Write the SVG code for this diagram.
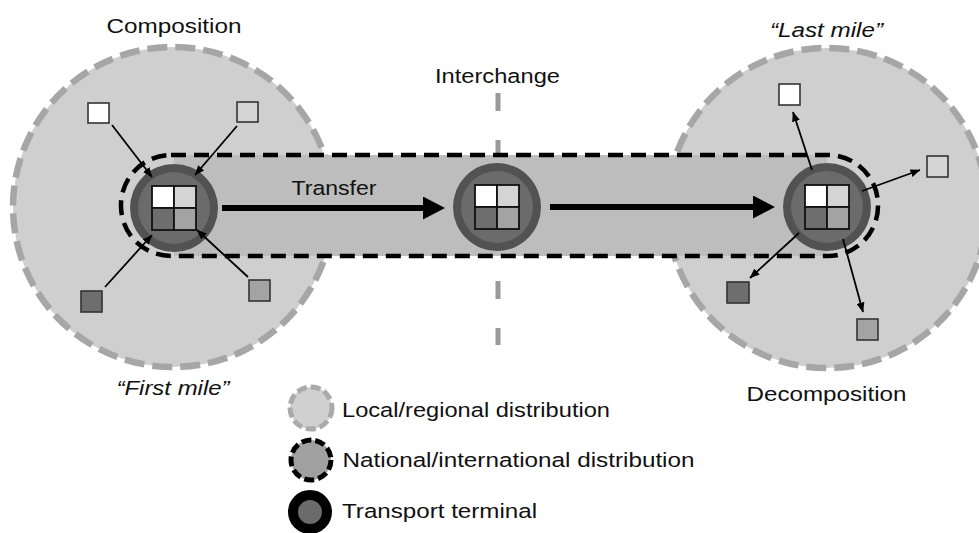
<svg xmlns="http://www.w3.org/2000/svg" width="979" height="533" viewBox="0 0 979 533">
  <style>
    .lbl { font-family: "Liberation Sans", Arial, sans-serif; font-size: 20.5px; fill: #111; }
    .it { font-style: italic; }
    .region { fill: #cfcfcf; stroke: #a6a6a6; stroke-width: 6.5; stroke-dasharray: 20 8; }
    .corridor { fill: none; stroke: #000; stroke-width: 4.5; stroke-dasharray: 15 8; }
    .ring { fill: #525252; }
    .core { fill: #6b6b6b; }
    .cell { stroke: #111; stroke-width: 1.8; }
    .w { fill: #ffffff; }
    .l { fill: #d4d4d4; }
    .d { fill: #6e6e6e; }
    .m { fill: #a3a3a3; }
    .sq { stroke: #333; stroke-width: 1.6; }
    .feed { stroke: #000; stroke-width: 1.8; fill: none; marker-end: url(#tip); }
    .haul { stroke: #000; stroke-width: 6; fill: none; marker-end: url(#bigtip); }
  </style>
  <defs>
    <marker id="tip" viewBox="0 0 10 8" refX="9.5" refY="4" markerWidth="10" markerHeight="8" markerUnits="userSpaceOnUse" orient="auto">
      <path d="M0,0 L10,4 L0,8 z" fill="#000"/>
    </marker>
    <marker id="bigtip" viewBox="0 0 22 23" refX="2" refY="11.5" markerWidth="22" markerHeight="23" markerUnits="userSpaceOnUse" orient="auto">
      <path d="M0,0 L22,11.5 L0,23 z" fill="#000"/>
    </marker>
    <!-- terminal: ring + 2x2 load grid -->
    <g id="terminal">
      <circle r="44" class="ring"/>
      <circle r="36" class="core"/>
      <rect x="-22" y="-22" width="22" height="22" class="cell w"/>
      <rect x="0" y="-22" width="22" height="22" class="cell l"/>
      <rect x="-22" y="0" width="22" height="22" class="cell d"/>
      <rect x="0" y="0" width="22" height="22" class="cell m"/>
    </g>
  </defs>

  <!-- local / regional distribution areas -->
  <g id="region-left"><circle cx="173" cy="207" r="160" class="region"/></g>
  <g id="region-right"><circle cx="827" cy="208" r="160" class="region"/></g>

  <!-- interchange divider -->
  <g id="interchange-line">
    <line x1="498" y1="93" x2="498" y2="345" stroke="#999" stroke-width="5" stroke-dasharray="18 29"/>
  </g>

  <!-- national / international corridor -->
  <g id="corridor">
    <rect x="174" y="155" width="653" height="101" fill="#bdbdbd"/>
    <rect x="121" y="155" width="757" height="101" rx="50" ry="50" class="corridor"/>
  </g>

  <!-- terminals -->
  <g id="terminal-left"><use href="#terminal" x="174" y="208"/></g>
  <g id="terminal-mid"><use href="#terminal" x="497" y="207"/></g>
  <g id="terminal-right"><use href="#terminal" x="827" y="207"/></g>

  <!-- connectors -->
  <g id="connectors">
    <line x1="222" y1="208" x2="425" y2="208" class="haul"/>
    <line x1="550" y1="207" x2="755" y2="207" class="haul"/>
    <line x1="112" y1="125" x2="152" y2="177" class="feed"/>
    <line x1="237" y1="126" x2="195" y2="175" class="feed"/>
    <line x1="105" y1="287" x2="152" y2="235" class="feed"/>
    <line x1="248" y1="277" x2="197" y2="230" class="feed"/>
    <line x1="812" y1="170" x2="793" y2="112" class="feed"/>
    <line x1="862" y1="191" x2="920" y2="170" class="feed"/>
    <line x1="799" y1="233" x2="750" y2="278" class="feed"/>
    <line x1="843" y1="239" x2="863" y2="312" class="feed"/>
  </g>

  <!-- shippers / receivers -->
  <g id="src-white"><rect x="88" y="103" width="21" height="20" class="sq w"/></g>
  <g id="src-light"><rect x="237" y="102" width="21" height="20" class="sq l"/></g>
  <g id="src-dark"><rect x="81" y="291" width="21" height="21" class="sq d"/></g>
  <g id="src-mid"><rect x="249" y="280" width="21" height="21" class="sq m"/></g>
  <g id="dst-white"><rect x="779" y="84" width="21" height="21" class="sq w"/></g>
  <g id="dst-light"><rect x="927" y="156" width="21" height="21" class="sq l"/></g>
  <g id="dst-dark"><rect x="727" y="282" width="22" height="21" class="sq d"/></g>
  <g id="dst-mid"><rect x="857" y="319" width="21" height="21" class="sq m"/></g>

  <!-- labels -->
  <g id="labels">
    <text x="106.5" y="33" class="lbl" textLength="135" lengthAdjust="spacingAndGlyphs">Composition</text>
    <text x="435" y="83" class="lbl" textLength="125" lengthAdjust="spacingAndGlyphs">Interchange</text>
    <text x="291.5" y="195" class="lbl" textLength="85" lengthAdjust="spacingAndGlyphs">Transfer</text>
    <text x="116.5" y="395" class="lbl it" textLength="113" lengthAdjust="spacingAndGlyphs">“First mile”</text>
    <text x="770" y="37" class="lbl it" textLength="113" lengthAdjust="spacingAndGlyphs">“Last mile”</text>
    <text x="746.5" y="401" class="lbl" textLength="160" lengthAdjust="spacingAndGlyphs">Decomposition</text>
  </g>

  <!-- legend -->
  <g id="legend-local">
    <circle cx="311" cy="408" r="21" fill="#d0d0d0" stroke="#aaa" stroke-width="5" stroke-dasharray="10 4"/>
    <text x="342" y="417" class="lbl" textLength="268" lengthAdjust="spacingAndGlyphs">Local/regional distribution</text>
  </g>
  <g id="legend-national">
    <circle cx="311" cy="460" r="20" fill="#a0a0a0" stroke="#000" stroke-width="5" stroke-dasharray="10 4"/>
    <text x="342.5" y="467" class="lbl" textLength="352" lengthAdjust="spacingAndGlyphs">National/international distribution</text>
  </g>
  <g id="legend-terminal">
    <circle cx="310" cy="512" r="17" fill="#6b6b6b" stroke="#000" stroke-width="10"/>
    <text x="342" y="518" class="lbl" textLength="195" lengthAdjust="spacingAndGlyphs">Transport terminal</text>
  </g>
</svg>
